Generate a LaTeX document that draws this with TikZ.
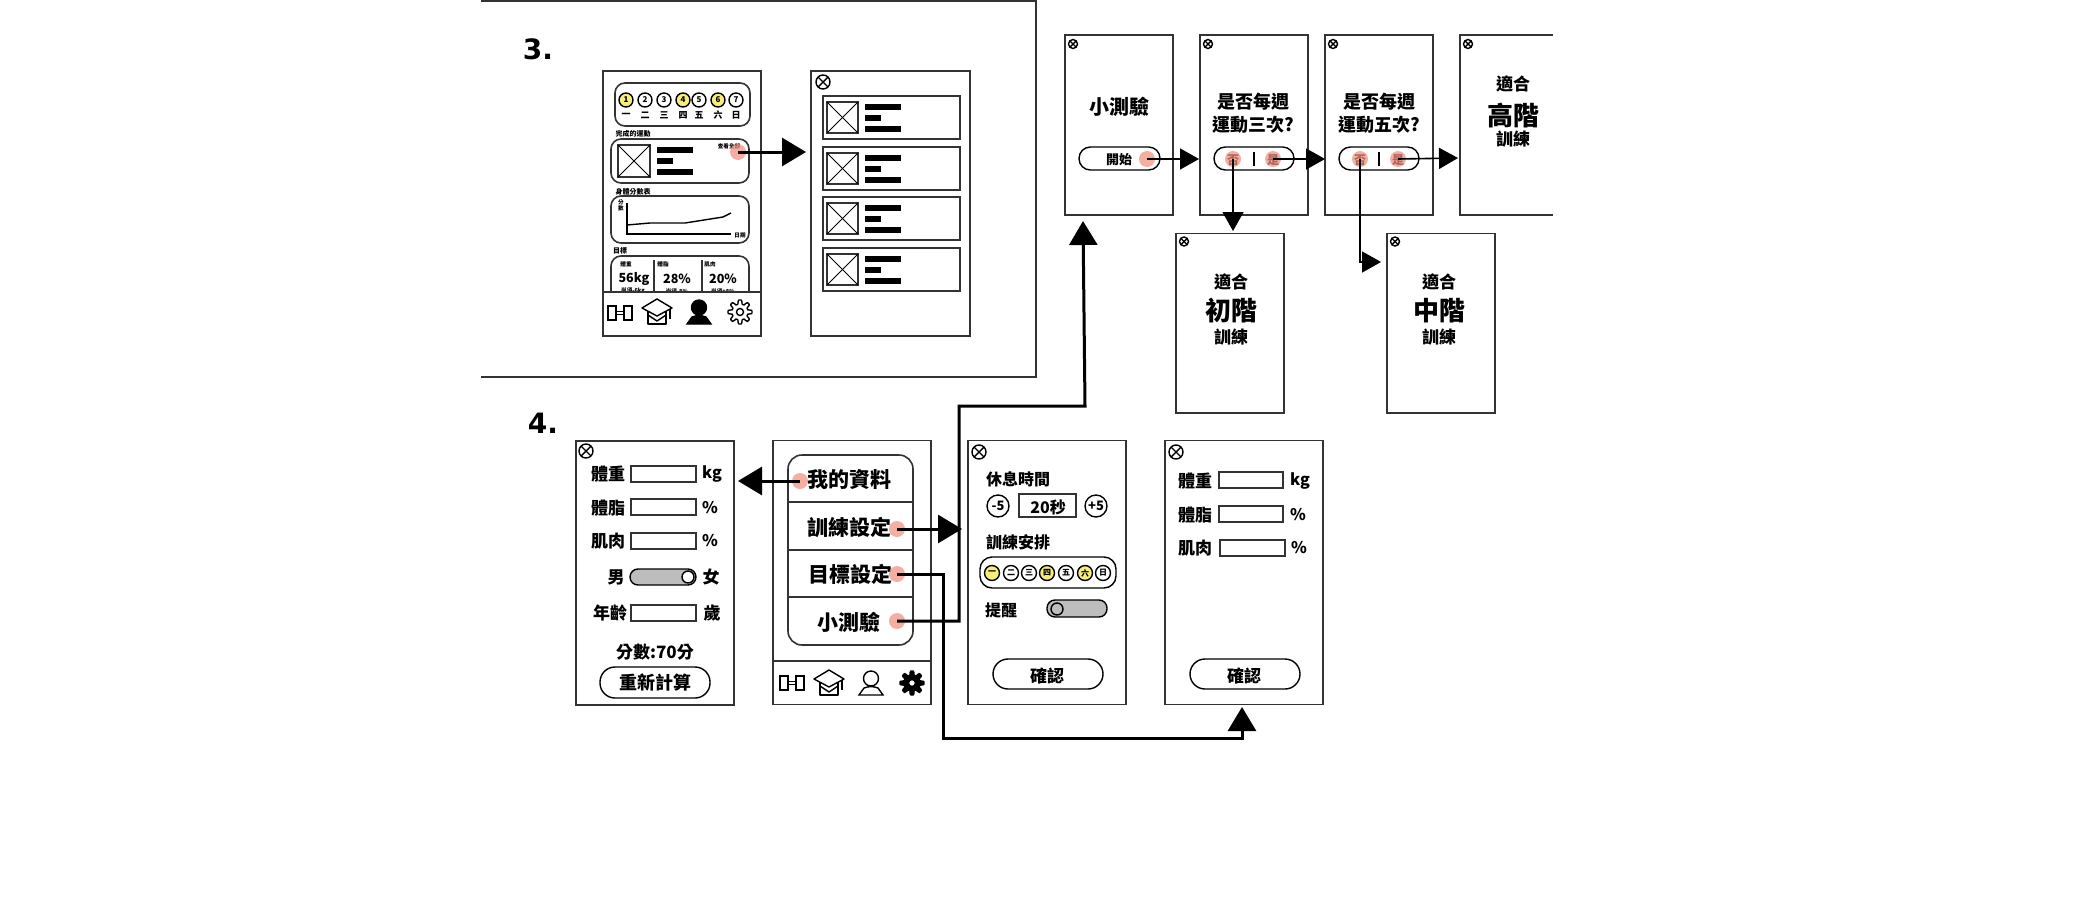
\documentclass[tikz,border=0pt]{standalone}
\usepackage{fontspec}
\setmainfont{Noto Sans CJK TC}
\newfontfamily\numfont{DejaVu Sans}
\usetikzlibrary{arrows.meta}

\definecolor{dotred}{HTML}{F0907E}
\definecolor{dayyellow}{HTML}{F7EE7A}
\definecolor{togglegray}{HTML}{BDBDBD}
\definecolor{framegray}{HTML}{333333}

\tikzset{
  frame/.style={draw=framegray, line width=0.8pt},
  outline/.style={draw=black, line width=0.7pt},
  txt/.style={inner sep=0pt, yshift=-0.5pt, font=\bfseries\fontsize{#1}{#1}\selectfont},
  dot/.style={circle, fill=dotred, fill opacity=0.72, inner sep=0pt, minimum size=8pt},
  bigarrow/.style={line width=1.5pt, -{Triangle[length=12pt,width=14pt]}},
  smallarrow/.style={line width=0.8pt, -{Triangle[length=9.5pt,width=10.5pt]}}
}

% Pantallas y piezas repetidas
\newcommand{\screen}[4]{\draw[frame] (#1,#2) rectangle (#3,#4);}
\newcommand{\closeicon}[3]{
  \draw[outline] (#1,#2) circle (#3);
  \draw[outline] ({#1-0.7*#3},{#2-0.7*#3}) -- ({#1+0.7*#3},{#2+0.7*#3});
  \draw[outline] ({#1-0.7*#3},{#2+0.7*#3}) -- ({#1+0.7*#3},{#2-0.7*#3});
}
\newcommand{\imgbox}[4]{
  \draw[frame] (#1,#2) rectangle (#3,#4);
  \draw[line width=0.5pt] (#1,#2) -- (#3,#4);
  \draw[line width=0.5pt] (#1,#4) -- (#3,#2);
}
\newcommand{\threebars}[2]{
  \fill (#1,#2) rectangle ++(36,5.5);
  \fill (#1,{#2+11}) rectangle ++(16,5.5);
  \fill (#1,{#2+22}) rectangle ++(36,5.5);
}
\newcommand{\dumbbellicon}[2]{
  \begin{scope}[shift={(#1,#2)}]
    \draw[outline] (-12,-7) rectangle (-4,7);
    \draw[outline] (4,-7) rectangle (12,7);
    \draw[outline] (-4,-1.5) -- (4,-1.5);
    \draw[outline] (-4,1.5) -- (4,1.5);
  \end{scope}
}
\newcommand{\capicon}[2]{
  \begin{scope}[shift={(#1,#2)}]
    \draw[outline, line join=round] (-9,-2) -- (-9,12) -- (9,12) -- (9,-2);
    \draw[outline, line join=round] (-9,3) -- (0,9) -- (9,3);
    \draw[outline, fill=white, line join=round] (-15,-4) -- (0,-13) -- (15,-4) -- (0,4) -- cycle;
    \draw[outline] (13,-3) -- (13,7);
  \end{scope}
}
\newcommand{\personicon}[3]{
  \begin{scope}[shift={(#1,#2)}]
    \draw[outline, #3] (0,-4.5) circle (7.5);
    \draw[outline, #3] (-12,12) -- (-7,5) to[bend left=20] (7,5) -- (12,12) -- cycle;
  \end{scope}
}
\newcommand{\gearicon}[3]{
  \begin{scope}[shift={(#1,#2)}]
    \draw[outline, #3, line join=round] plot[domain=0:356, samples=90, variable=\a]
      ({(10+2*max(-1,min(1,2*cos(8*\a))))*cos(\a)},{(10+2*max(-1,min(1,2*cos(8*\a))))*sin(\a)}) -- cycle;
    \draw[outline, fill=white] (0,0) circle (3.5);
  \end{scope}
}

\begin{document}
\begin{tikzpicture}[x=0.5pt, y=-0.5pt]
    \useasboundingbox (0,0) rectangle (2100,900);

    % Recuadro de la parte 3
    \draw[line width=1pt, draw=framegray] (481,1) -- (1036,1) -- (1036,377) -- (481,377);
    \node[inner sep=0pt, font=\numfont\bfseries\fontsize{14}{14}\selectfont] (labelThree) at (538,49) {3.};

    % Pantalla principal
    \screen{603}{71}{761}{336}
    \draw[frame, rounded corners=5pt] (615,83) rectangle (750,126);
    \foreach \i/\x/\d/\c in {1/626/一/dayyellow, 2/645/二/white, 3/664/三/white, 4/683/四/dayyellow,
                             5/699/五/white, 6/718/六/dayyellow, 7/736/日/white} {
        \node[circle, outline, fill=\c, minimum size=7pt, inner sep=0pt, font=\bfseries\fontsize{4}{4}\selectfont] (numA\i) at (\x,100) {\i};
        \node[txt=4.5] (dayA\i) at (\x,114) {\d};
    }
    \node[txt=3.5] (doneTitle) at (633,133) {完成的運動};
    \draw[frame, rounded corners=5pt] (611,139) rectangle (749,183);
    \imgbox{618}{145}{650}{177}
    \threebars{657}{147}
    \node[txt=2.8] (seeAll) at (729,145) {查看全部};
    \node[txt=3.5] (scoreTitle) at (633,191) {身體分數表};
    \draw[frame, rounded corners=5pt] (611,196) rectangle (749,243);
    \draw[line width=0.7pt] (627,203) -- (627,234) -- (731,234);
    \draw[line width=0.7pt] (627,225) -- (650,223) -- (685,223) -- (723,217) -- (731,213);
    \node[txt=2.8, align=center] (axisY) at (621,204.5) {分\\數};
    \node[txt=2.8] (axisX) at (740,234) {日期};
    \node[txt=3.5] (goalTitle) at (620,250) {目標};
    \draw[frame, rounded corners=5pt] (611,292) -- (611,256) -- (749,256) -- (749,292);
    \draw[frame] (654,260) -- (654,292);
    \draw[frame] (702,260) -- (702,292);
    \node[txt=2.8] (goalA) at (626,263) {體重};
    \node[txt=2.8] (goalB) at (663,263) {體脂};
    \node[txt=2.8] (goalC) at (710,263) {肌肉};
    \node[txt=6.3] (valueA) at (634,278) {56kg};
    \node[txt=6.3] (valueB) at (677,278) {28\%};
    \node[txt=6.3] (valueC) at (723,278) {20\%};
    \begin{scope}
        \clip (604,280) rectangle (760,292);
        \node[txt=2.8] (needA) at (633,290) {尚須-6kg};
        \node[txt=2.8] (needB) at (677,290) {尚須-8\%};
        \node[txt=2.8] (needC) at (723,290) {尚須+8\%};
    \end{scope}
    \draw[frame] (603,292) -- (761,292);
    \dumbbellicon{620}{313}
    \capicon{657}{312}
    \personicon{699}{312}{fill=black}
    \gearicon{740}{312}{fill=white}

    % Lista de ejercicios
    \screen{811}{71}{970}{336}
    \closeicon{823}{82}{7}
    \foreach \y in {96,147,197,248} {
        \draw[frame] (823,\y) rectangle (960,{\y+43});
        \imgbox{827}{\y+6}{858}{\y+37}
        \threebars{865}{\y+8}
    }

    \node[dot] (dotAll) at (738,152) {};
    \coordinate (tipAll) at (806,150);
    \draw[bigarrow] (dotAll.center) -- (dotAll.center -| tipAll);

    % Pantallas del test
    \screen{1065}{35}{1173}{215}
    \closeicon{1073}{44}{4.5}
    \node[txt=10] (quizTitle) at (1119,106) {小測驗};
    \draw[outline, rounded corners=5.7pt] (1079,147) rectangle (1160,170);
    \node[txt=6.5] (startText) at (1119,159) {開始};
    \node[dot] (dotStart) at (1147,159) {};

    \screen{1200}{35}{1308}{215}
    \closeicon{1208}{44}{4.5}
    \node[txt=9, align=center] (askThree) at (1253,112) {是否每週\\[2.2pt]運動三次?};
    \draw[outline, rounded corners=5.7pt] (1214,147) rectangle (1294,170);
    \node[txt=6] (noThree) at (1233,159) {否};
    \node[txt=6] (yesThree) at (1273,159) {是};
    \draw[outline] (1254,152) -- (1254,166);
    \node[dot] (dotNoThree) at (1233,159) {};
    \node[dot] (dotYesThree) at (1273,159) {};

    \screen{1325}{35}{1433}{215}
    \closeicon{1333}{44}{4.5}
    \node[txt=9, align=center] (askFive) at (1379,112) {是否每週\\[2.2pt]運動五次?};
    \draw[outline, rounded corners=5.7pt] (1339,147) rectangle (1419,170);
    \node[txt=6] (noFive) at (1360,159) {否};
    \node[txt=6] (yesFive) at (1398,159) {是};
    \draw[outline] (1379,152) -- (1379,166);
    \node[dot] (dotNoFive) at (1360,159) {};
    \node[dot] (dotYesFive) at (1398,159) {};

    % Resultados
    \draw[frame] (1553,35) -- (1460,35) -- (1460,215) -- (1553,215);
    \closeicon{1468}{44}{4.5}
    \node[txt=8.5] (fitHigh) at (1513,83) {適合};
    \node[txt=13] (levelHigh) at (1513,115) {高階};
    \node[txt=8.5] (trainHigh) at (1513,138) {訓練};

    \screen{1176}{233.5}{1284}{413}
    \closeicon{1184}{241.5}{4.5}
    \node[txt=8.5] (fitLow) at (1231,281) {適合};
    \node[txt=13] (levelLow) at (1231,310) {初階};
    \node[txt=8.5] (trainLow) at (1231,336) {訓練};

    \screen{1387}{233.5}{1495}{413}
    \closeicon{1395}{241.5}{4.5}
    \node[txt=8.5] (fitMid) at (1439,281) {適合};
    \node[txt=13] (levelMid) at (1439,310) {中階};
    \node[txt=8.5] (trainMid) at (1439,336) {訓練};

    \coordinate (tipStart) at (1199,159);
    \coordinate (tipYesThree) at (1325,159);
    \coordinate (tipYesFive) at (1458,158);
    \coordinate (tipNoThree) at (1233,231);
    \coordinate (turnNoFive) at (1360,262);
    \coordinate (tipNoFive) at (1381,262);
    \draw[smallarrow] (dotStart.center) -- (tipStart);
    \draw[smallarrow] (dotYesThree.center) -- (tipYesThree);
    \draw[smallarrow] (dotYesFive.center) -- (tipYesFive);
    \draw[smallarrow] (dotNoThree.center) -- (tipNoThree);
    \draw[smallarrow] (dotNoFive.center) -- (turnNoFive) -- (tipNoFive);

    % Parte 4
    \node[inner sep=0pt, font=\numfont\bfseries\fontsize{14}{14}\selectfont] (labelFour) at (543,423) {4.};

    % Mis datos
    \screen{576}{441}{734}{705}
    \closeicon{586}{451}{7}
    \node[txt=8.5] (weightA) at (608,473) {體重};
    \draw[frame] (631,466) rectangle (696,482);
    \node[txt=8] (weightUnitA) at (712,473) {kg};
    \node[txt=8.5] (fatA) at (608,507) {體脂};
    \draw[frame] (631,499) rectangle (696,515);
    \node[txt=8] (fatUnitA) at (710,507) {\%};
    \node[txt=8.5] (muscleA) at (608,540) {肌肉};
    \draw[frame] (631,533) rectangle (696,549);
    \node[txt=8] (muscleUnitA) at (710,540) {\%};
    \node[txt=8.5] (male) at (616,576) {男};
    \draw[outline, fill=togglegray, rounded corners=4pt] (630,569) rectangle (696,585);
    \draw[outline, fill=white] (688,577) circle (6);
    \node[txt=8.5] (female) at (711,576) {女};
    \node[txt=8.5] (age) at (610,612) {年齡};
    \draw[frame] (631,605) rectangle (696,621);
    \node[txt=8.5] (ageUnit) at (712,612) {歲};
    \node[txt=8.5] (scoreText) at (655,651) {分數:70分};
    \draw[outline, rounded corners=7.5pt] (600,667) rectangle (710,698);
    \node[txt=9] (recalc) at (655,682) {重新計算};

    % Menu
    \screen{773}{440.5}{931}{704.5}
    \draw[frame, rounded corners=7pt] (788,455) rectangle (913,645);
    \draw[frame] (788,502) -- (913,502);
    \draw[frame] (788,550) -- (913,550);
    \draw[frame] (788,597) -- (913,597);
    \node[txt=10.5] (menuProfile) at (849,478) {我的資料};
    \node[txt=10.5] (menuTrain) at (849,526) {訓練設定};
    \node[txt=10.5] (menuGoal) at (850,573) {目標設定};
    \node[txt=10.5] (menuQuiz) at (849,621) {小測驗};
    \draw[frame] (773,661) -- (931,661);
    \dumbbellicon{792}{683}
    \capicon{829}{683}
    \personicon{871}{683}{fill=white}
    \gearicon{912}{683}{fill=black}
    \node[dot] (dotProfile) at (800,481) {};
    \node[dot] (dotTrain) at (897,529) {};
    \node[dot] (dotGoal) at (897,574) {};
    \node[dot] (dotQuiz) at (897,621) {};

    % Ajustes de entrenamiento
    \screen{968}{440.5}{1126}{704.5}
    \closeicon{979}{452}{7}
    \node[txt=8] (restTitle) at (1018,478) {休息時間};
    \node[circle, outline, minimum size=11pt, inner sep=0pt, font=\bfseries\fontsize{6.5}{6.5}\selectfont] (minusFive) at (998,506) {-5};
    \draw[frame] (1019,494) rectangle (1076,517);
    \node[txt=8] (restValue) at (1048,506) {20秒};
    \node[circle, outline, minimum size=11pt, inner sep=0pt, font=\bfseries\fontsize{6.5}{6.5}\selectfont] (plusFive) at (1096,506) {+5};
    \node[txt=8] (planTitle) at (1018,541) {訓練安排};
    \draw[outline, rounded corners=6pt] (980,557) rectangle (1116,588);
    \foreach \i/\x/\d/\c in {1/992/一/dayyellow, 2/1011/二/white, 3/1029/三/white, 4/1047/四/dayyellow,
                             5/1066/五/white, 6/1085/六/dayyellow, 7/1103/日/white} {
        \node[circle, outline, fill=\c, minimum size=7.5pt, inner sep=0pt, font=\bfseries\fontsize{4}{4}\selectfont] (dayB\i) at (\x,573) {\d};
    }
    \node[txt=8] (remindTitle) at (1001,609) {提醒};
    \draw[outline, fill=togglegray, rounded corners=4pt] (1047,600) rectangle (1107,617);
    \draw[outline, fill=togglegray] (1057,609) circle (6);
    \draw[outline, rounded corners=7.5pt] (993,659) rectangle (1103,689);
    \node[txt=8.5] (confirmA) at (1047,675) {確認};

    % Ajustes de objetivo
    \screen{1165}{440.5}{1323}{704.5}
    \closeicon{1176}{452}{7}
    \node[txt=8.5] (weightB) at (1195,480) {體重};
    \draw[frame] (1219,472) rectangle (1283,488);
    \node[txt=8] (weightUnitB) at (1300,480) {kg};
    \node[txt=8.5] (fatB) at (1195,514) {體脂};
    \draw[frame] (1219,506) rectangle (1283,522);
    \node[txt=8] (fatUnitB) at (1298,514) {\%};
    \node[txt=8.5] (muscleB) at (1195,547) {肌肉};
    \draw[frame] (1220,540) rectangle (1285,556);
    \node[txt=8] (muscleUnitB) at (1299,547) {\%};
    \draw[outline, rounded corners=7.5pt] (1190,659) rectangle (1300,689);
    \node[txt=8.5] (confirmB) at (1244,675) {確認};

    % Flechas del menu
    \coordinate (tipProfile) at (738,481);
    \coordinate (tipTrain) at (962,529);
    \coordinate (turnGoalA) at (943,574);
    \coordinate (turnGoalB) at (943,738);
    \coordinate (turnGoalC) at (1242,738);
    \coordinate (tipGoal) at (1242,707);
    \coordinate (turnQuizA) at (959,621);
    \coordinate (turnQuizB) at (959,406);
    \coordinate (turnQuizC) at (1085,406);
    \coordinate (tipQuiz) at (1083,221);
    \draw[bigarrow] (dotProfile.center) -- (tipProfile);
    \draw[bigarrow] (dotTrain.center) -- (tipTrain);
    \draw[bigarrow] (dotGoal.center) -- (turnGoalA) -- (turnGoalB) -- (turnGoalC) -- (tipGoal);
    \draw[bigarrow] (dotQuiz.center) -- (turnQuizA) -- (turnQuizB) -- (turnQuizC) -- (tipQuiz);
\end{tikzpicture}
\end{document}
